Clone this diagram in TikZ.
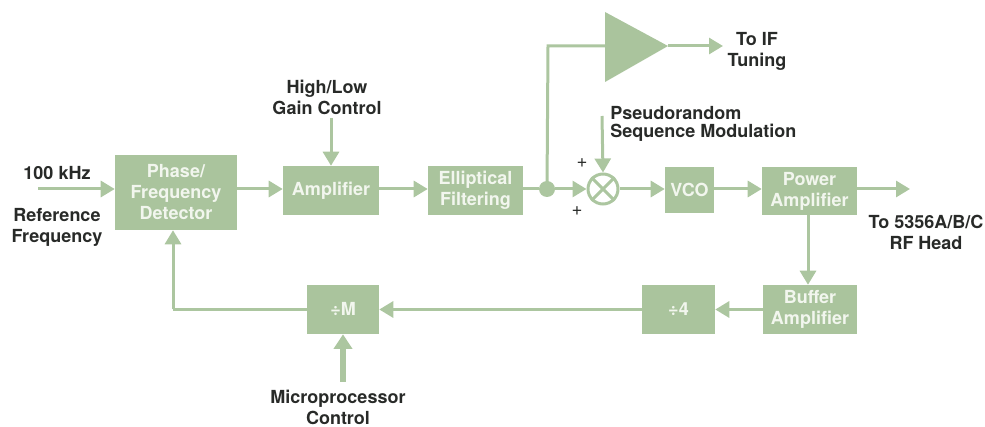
\documentclass[tikz,border=0pt]{standalone}
\usepackage{fontspec}
\setmainfont{TeX Gyre Heros}
\usetikzlibrary{arrows.meta,calc}
\definecolor{boxg}{RGB}{170,196,157}
\definecolor{lineg}{RGB}{172,198,160}
\definecolor{txtd}{RGB}{40,42,40}
\definecolor{txtw}{RGB}{242,246,238}
\tikzset{
  blk/.style={fill=boxg, draw=none, inner sep=0pt, text=txtw, font=\fontsize{13.5}{15.75}\selectfont\bfseries, align=center},
  lbl/.style={inner sep=0pt, text=txtd, font=\fontsize{13.5}{15.75}\selectfont\bfseries, align=center},
  sgn/.style={inner sep=0pt, text=txtd, font=\fontsize{14}{14}\selectfont},
  wire/.style={draw=lineg, line width=2.25pt},
  arr/.style={wire, -{Triangle[length=10.5pt,width=12pt]}},
  fatarr/.style={draw=lineg, line width=5pt, -{Triangle[length=11pt,width=13.5pt]}},
}
\begin{document}
\begin{tikzpicture}[x=0.75pt,y=-0.75pt]
\useasboundingbox (0,0) rectangle (985,427);
% blocks
\node[blk, minimum width=91.5pt, minimum height=56.25pt] (pfd) at (176,192.5) {Phase/\\Frequency\\Detector};
\node[blk, minimum width=72pt, minimum height=36.75pt] (amp) at (331,190.5) {Amplifier};
\node[blk, minimum width=71.25pt, minimum height=36.75pt] (ell) at (475.5,190.5) {Elliptical\\Filtering};
\node[blk, minimum width=36.75pt, minimum height=34.5pt] (vco) at (689.5,190) {VCO};
\node[blk, minimum width=71.25pt, minimum height=36pt] (pa) at (809.5,191) {Power\\Amplifier};
\node[blk, minimum width=70.5pt, minimum height=36.75pt] (buf) at (810,309.5) {Buffer\\Amplifier};
\node[blk, minimum width=54.75pt, minimum height=36.75pt] (div4) at (678.5,309.5) {÷4};
\node[blk, minimum width=54pt, minimum height=36.75pt] (divm) at (343,309.5) {÷M};
% junction dot and mixer
\node[circle, fill=lineg, inner sep=0pt, minimum size=12pt] (dot) at (547,189) {};
\node[circle, draw=lineg, line width=2.25pt, fill=white, inner sep=0pt, minimum size=22.5pt] (mix) at (603,189) {};
\draw[wire] (mix.north west) -- (mix.south east) (mix.north east) -- (mix.south west);
% IF amplifier triangle
\coordinate (tl) at (605,12);
\coordinate (tb) at (605,82);
\coordinate (tt) at (668,46);
\fill[boxg] (tl) -- (tt) -- (tb) -- cycle;
\coordinate (ifin) at (605,46);
\coordinate (corner) at (548,46);
% labels
\node[lbl] (khz) at (57,173) {100 kHz};
\node[lbl] (ref) at (57,227) {Reference\\Frequency};
\coordinate (inpt) at (38,189);
\node[lbl] (hl) at (327,97.5) {High/Low\\Gain Control};
\coordinate (hltop) at (331,118);
\node[lbl] (toif) at (757,51.5) {To IF\\Tuning};
\coordinate (ifout) at (723,46);
\node[lbl, anchor=west] (pseudo) at (610,113) {Pseudorandom};
\node[lbl, anchor=west] (seq) at (610,133) {Sequence Modulation};
\coordinate (pstop) at (602,116);
\node[lbl] (rf) at (926,232.5) {To 5356A/B/C\\RF Head};
\coordinate (rfout) at (910,189);
\node[lbl] (mp) at (338,407) {Microprocessor\\Control};
\coordinate (mpbot) at (343,382);
\node[sgn] (p1) at (582,163) {+};
\node[sgn] (p2) at (577,211) {+};
\coordinate (fbc) at (173,309.5);
% connectors
\draw[arr] (inpt) -- (inpt -| pfd.west);
\draw[arr] (pfd.east |- 0,189) -- (amp.west |- 0,189);
\draw[arr] (hltop) -- (amp.north);
\draw[arr] (amp.east |- 0,189) -- (ell.west |- 0,189);
\draw[wire] (ell.east |- 0,189) -- (dot);
\draw[arr] (dot) -- (mix.west);
\draw[wire] (dot.center) -- (corner) -- (ifin);
\draw[arr] (tt) -- (ifout);
\draw[arr] (pstop) -- (mix.north);
\draw[arr] (mix.east) -- (vco.west |- 0,189);
\draw[arr] (vco.east |- 0,189) -- (pa.west |- 0,189);
\draw[arr] (pa.east |- 0,189) -- (rfout);
\draw[arr] (pa.south -| 808,0) -- (buf.north -| 808,0);
\draw[arr] (buf.west) -- (div4.east);
\draw[arr] (div4.west) -- (divm.east);
\draw[wire] (divm.west) -- (fbc);
\draw[arr] (fbc) -- (fbc |- pfd.south);
\draw[fatarr] (mpbot) -- (divm.south);
\end{tikzpicture}
\end{document}
